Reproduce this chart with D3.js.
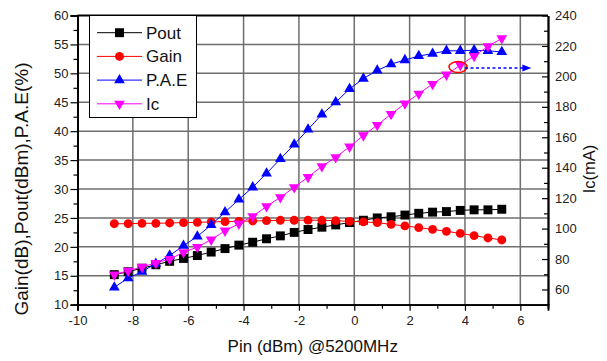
<!DOCTYPE html>
<html><head><meta charset="utf-8">
<script src="https://cdn.jsdelivr.net/npm/d3@7"></script>
<style>body{margin:0;background:#fff}svg{display:block;font-family:"Liberation Sans",Arial,sans-serif}</style>
</head><body><svg id="c" width="607" height="361"></svg>
<script>
const pin  = [-8.67,-8.17,-7.67,-7.17,-6.67,-6.17,-5.67,-5.17,-4.67,-4.17,-3.67,-3.17,-2.67,-2.17,-1.67,-1.17,-0.67,-0.17,0.33,0.83,1.33,1.83,2.33,2.83,3.33,3.83,4.33,4.83,5.33];
const pout = [15.2,15.7,16.3,16.9,17.5,18.0,18.5,19.1,19.7,20.3,20.8,21.4,21.9,22.5,23.0,23.4,23.8,24.2,24.6,25.0,25.2,25.5,25.8,26.0,26.1,26.3,26.4,26.4,26.5];
const gain = [24.0,24.0,24.07,24.07,24.13,24.19,24.24,24.31,24.36,24.41,24.48,24.53,24.59,24.6,24.62,24.59,24.53,24.41,24.31,24.19,23.89,23.62,23.32,23.03,22.68,22.33,21.94,21.54,21.19];
const pae  = [13.0,14.6,15.7,17.1,18.5,20.2,21.8,23.8,26.0,28.2,30.3,32.7,35.2,37.7,40.3,42.9,45.0,47.3,49.1,50.5,51.6,52.3,53.0,53.4,53.9,53.9,54.0,53.9,53.7];
const ic   = [69.7,72.3,74.8,77.4,80.0,84.4,87.9,92.7,98.6,103.2,108.0,114.6,120.5,127.1,133.9,140.9,146.8,153.8,161.2,168.0,175.2,182.1,188.6,195.0,201.1,207.4,213.4,219.7,225.0];
const seriesNames = ["Pout","Gain","P.A.E","Ic"];
const xTicks = [-10,-8,-6,-4,-2,0,2,4,6];
const yLeftTicks = [10,15,20,25,30,35,40,45,50,55,60];
const yRightTicks = [60,80,100,120,140,160,180,200,220,240];
const ellipseAt = [3.75, 206.2];
const arrowFromTo = [4.0, 6.4, 205.5];

const svg = d3.select("#c");
const L=77.5, R=548, T=15.5, B=304.7;
const x = d3.scaleLinear().domain([-10,7]).range([L,R]);
const yL = d3.scaleLinear().domain([10,60]).range([B,T]);
const yR = d3.scaleLinear().domain([50,240]).range([B,T]);
const fmt = d => String(d);

// grid
const grid = svg.append("g").attr("stroke","#6e6e6e").attr("stroke-width",1.5);
grid.selectAll("line.h").data(yLeftTicks.filter(v=>v>10&&v<60)).join("line")
  .attr("x1",L).attr("x2",R).attr("y1",d=>yL(d)).attr("y2",d=>yL(d));
grid.selectAll("line.v").data(xTicks.filter(v=>v>-10)).join("line")
  .attr("y1",T).attr("y2",B).attr("x1",d=>x(d)).attr("x2",d=>x(d));

// axes
const fs = "13px";
svg.append("g").attr("transform",`translate(0,${B})`)
  .call(d3.axisBottom(x).tickValues(xTicks).tickSize(6).tickPadding(5).tickFormat(fmt));
svg.append("g").attr("transform",`translate(0,${B})`)
  .call(d3.axisBottom(x).tickValues(d3.range(-9,7,2)).tickSize(4).tickFormat(""));
svg.append("g").attr("transform",`translate(${L},0)`)
  .call(d3.axisLeft(yL).tickValues(yLeftTicks).tickSize(7).tickPadding(2).tickFormat(fmt));
svg.append("g").attr("transform",`translate(${L},0)`)
  .call(d3.axisLeft(yL).tickValues(d3.range(12.5,60,5)).tickSize(4).tickFormat(""));
svg.append("g").attr("transform",`translate(${R},0)`)
  .call(d3.axisRight(yR).tickValues(yRightTicks).tickSizeInner(-6).tickSizeOuter(0).tickPadding(7).tickFormat(fmt));
svg.append("g").attr("transform",`translate(${R},0)`)
  .call(d3.axisRight(yR).tickValues(d3.range(70,240,20)).tickSizeInner(-4).tickSizeOuter(0).tickFormat(""));
svg.selectAll(".tick text").attr("font-size",fs).attr("fill","#222").attr("font-family","Liberation Sans, Arial, sans-serif");
svg.selectAll(".tick line").attr("stroke","#000").attr("stroke-width",1.2);
svg.selectAll(".domain").attr("stroke","#000").attr("stroke-width",1.8);
svg.append("line").attr("x1",L).attr("x2",R).attr("y1",T).attr("y2",T).attr("stroke","#000").attr("stroke-width",1.8);

// series
const cols = ["#000000","#ff0000","#0000ff","#ff00ff"];
const syms = [d3.symbolSquare,d3.symbolCircle,d3.symbolTriangle,d3.symbolTriangle];
const sizes = [80,62,50,50];
const rots = [0,0,0,180];
const data = [pout,gain,pae,ic];
const scales = [yL,yL,yL,yR];
data.forEach((vals,k)=>{
  const ys = scales[k];
  const pts = pin.map((p,i)=>[x(p), ys(vals[i])]);
  svg.append("path").attr("d",d3.line()(pts)).attr("fill","none").attr("stroke",cols[k]).attr("stroke-width",1);
  svg.append("g").selectAll("path").data(pts).join("path")
    .attr("d",d3.symbol(syms[k],sizes[k]))
    .attr("transform",d=>`translate(${d[0]},${d[1]}) rotate(${rots[k]})`)
    .attr("fill",cols[k]);
});

// annotation
svg.append("ellipse").attr("cx",x(ellipseAt[0])).attr("cy",yR(ellipseAt[1])).attr("rx",9).attr("ry",5.5)
  .attr("fill","none").attr("stroke","#ff0000").attr("stroke-width",1.5);
const ay = yR(arrowFromTo[2]);
svg.append("line").attr("x1",x(arrowFromTo[0])).attr("x2",x(arrowFromTo[1])-7).attr("y1",ay).attr("y2",ay)
  .attr("stroke","#0000ff").attr("stroke-width",1.5).attr("stroke-dasharray","3,2.5");
svg.append("path").attr("d",`M${x(arrowFromTo[1])},${ay} l-9,-3.5 l0,7 z`).attr("fill","#0000ff");

// legend
const lg = svg.append("g");
lg.append("rect").attr("x",89.5).attr("y",T).attr("width",107).attr("height",102)
  .attr("fill","#fff").attr("stroke","#000").attr("stroke-width",1);
seriesNames.forEach((n,k)=>{
  const yy = 32.7 + k*23.7;
  lg.append("line").attr("x1",97).attr("x2",142).attr("y1",yy).attr("y2",yy).attr("stroke",cols[k]).attr("stroke-width",1);
  lg.append("path").attr("d",d3.symbol(syms[k],sizes[k])).attr("transform",`translate(119.5,${yy}) rotate(${rots[k]})`).attr("fill",cols[k]);
  lg.append("text").attr("x",146).attr("y",yy+6).attr("font-size","17px").attr("fill","#111").text(n);
});

// titles
svg.append("text").attr("x",(L+R)/2).attr("y",351.7).attr("text-anchor","middle").attr("font-size","17px").attr("fill","#111").text("Pin (dBm) @5200MHz");
svg.append("text").attr("transform","translate(28,189) rotate(-90)").attr("text-anchor","middle").attr("font-size","19px").attr("fill","#111").text("Gain(dB),Pout(dBm),P.A.E(%)");
svg.append("text").attr("transform","translate(595,169) rotate(-90)").attr("text-anchor","middle").attr("font-size","16.5px").attr("fill","#111").text("Ic(mA)");
</script></body></html>
